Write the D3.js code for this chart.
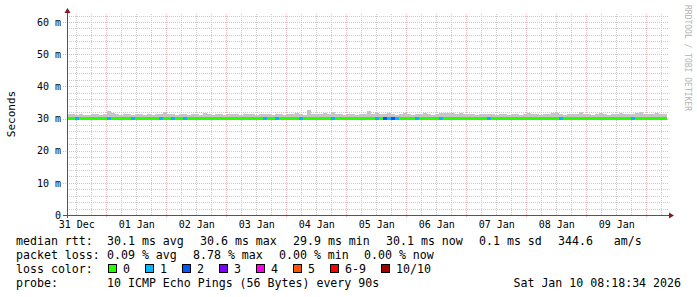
<!DOCTYPE html>
<html>
<head>
<meta charset="utf-8">
<script src="https://cdn.jsdelivr.net/npm/d3@7"></script>
<style>
  body { margin: 0; background: #fff; }
  text { font-family: "DejaVu Sans Mono", monospace; }
</style>
</head>
<body>
<div id="chart"></div>
<script>
// time window shown by the graph (10 days)
const startTime = new Date(Date.UTC(2025, 11, 31, 8, 18, 34));
const endTime = new Date(Date.UTC(2026, 0, 10, 8, 18, 34));
const sampleMinutes = 96;

// highest ping per sample (top of the smoke), ms
const pingMax = [
  31.5, 31.3, 31.2, 31.4, 31.2, 31.1, 31.3, 31.4, 31.2, 31.3,
  32.2, 31.6, 31.3, 31.2, 31.4, 31.3, 31.2, 31.3, 31.5, 31.2,
  31.3, 31.2, 31.4, 31.3, 32.0, 31.5, 31.3, 31.2, 31.4, 31.3,
  31.2, 31.5, 31.3, 31.2, 31.6, 31.3, 31.2, 31.4, 31.3, 31.2,
  31.5, 31.3, 31.4, 31.2, 31.3, 31.5, 31.3, 31.2, 31.4, 31.3,
  31.3, 31.2, 31.4, 31.3, 31.2, 31.5, 31.4, 31.7, 31.3, 31.2,
  32.6, 31.4, 31.3, 31.4, 31.7, 31.5, 32.0, 31.4, 31.3, 31.2,
  31.3, 31.4, 31.2, 31.3, 31.5, 32.2, 31.4, 31.6, 31.4, 31.5,
  31.6, 31.3, 31.2, 31.5, 31.7, 31.3, 31.2, 31.4, 31.3, 31.6,
  31.3, 31.2, 31.5, 31.6, 31.7, 31.8, 31.7, 31.4, 31.6, 31.3,
  31.5, 31.3, 31.2, 31.4, 31.3, 31.5, 31.3, 31.2, 31.4, 31.3,
  31.2, 31.3, 31.4, 31.2, 31.3, 31.7, 31.4, 31.3, 31.2, 31.4,
  31.5, 31.7, 31.6, 31.3, 31.2, 31.4, 31.3, 31.5, 32.0, 31.4,
  31.3, 31.2, 31.4, 31.7, 31.3, 31.2, 31.4, 31.5, 31.8, 31.4,
  31.3, 31.5, 31.6, 32.1, 31.5, 31.3, 31.4, 31.8, 31.5, 31.4
];
const pingFloor = 29.8;

// median rtt per sample, ms
const medianRtt = [
  30.1, 30.1, 30.1, 30.1, 30.1, 30.1, 30.1, 30.1, 30.1, 30.1,
  30.1, 30.1, 30.1, 30.1, 30.1, 30.1, 30.1, 30.1, 30.1, 30.1,
  30.1, 30.1, 30.1, 30.1, 30.1, 30.1, 30.1, 30.1, 30.1, 30.1,
  30.1, 30.1, 30.1, 30.1, 30.1, 30.1, 30.1, 30.1, 30.1, 30.1,
  30.1, 30.1, 30.1, 30.1, 30.1, 30.1, 30.1, 30.1, 30.1, 30.1,
  30.1, 30.1, 30.1, 30.1, 30.1, 30.1, 30.1, 30.1, 30.1, 30.1,
  30.1, 30.1, 30.1, 30.1, 30.1, 30.1, 30.1, 30.1, 30.1, 30.1,
  30.1, 30.1, 30.1, 30.1, 30.1, 30.1, 30.1, 30.1, 30.1, 30.1,
  30.1, 30.1, 30.1, 30.1, 30.1, 30.1, 30.1, 30.1, 30.1, 30.1,
  30.1, 30.1, 30.1, 30.1, 30.1, 30.1, 30.1, 30.1, 30.1, 30.1,
  30.1, 30.1, 30.1, 30.1, 30.1, 30.1, 30.1, 30.1, 30.1, 30.1,
  30.1, 30.1, 30.1, 30.1, 30.1, 30.1, 30.1, 30.1, 30.1, 30.1,
  30.1, 30.1, 30.1, 30.1, 30.1, 30.1, 30.1, 30.1, 30.1, 30.1,
  30.1, 30.1, 30.1, 30.1, 30.1, 30.1, 30.1, 30.1, 30.1, 30.1,
  30.1, 30.1, 30.1, 30.1, 30.1, 30.1, 30.1, 30.1, 30.1, 30.1
];

// lost pings (out of 10) per sample
const lossCount = [
  0, 0, 1, 0, 0, 0, 0, 0, 0, 0,
  1, 0, 0, 0, 0, 0, 1, 0, 0, 0,
  0, 0, 0, 1, 0, 0, 1, 0, 0, 1,
  0, 0, 0, 0, 0, 0, 0, 0, 0, 0,
  0, 0, 0, 0, 0, 0, 0, 0, 0, 1,
  0, 0, 1, 0, 0, 0, 0, 0, 1, 0,
  0, 0, 0, 0, 0, 0, 1, 0, 0, 0,
  0, 0, 0, 0, 0, 0, 0, 1, 0, 2,
  1, 2, 1, 0, 0, 0, 0, 1, 0, 0,
  0, 0, 0, 1, 0, 0, 0, 0, 0, 0,
  0, 0, 0, 0, 0, 1, 0, 0, 0, 0,
  0, 0, 0, 0, 0, 0, 0, 0, 0, 0,
  0, 0, 0, 1, 0, 0, 0, 0, 0, 0,
  0, 0, 0, 0, 0, 0, 0, 0, 0, 0,
  0, 1, 0, 0, 0, 0, 0, 0, 0, 0
];

const yTicks = [0, 10, 20, 30, 40, 50, 60];
const yMax = 62.49;

const lossBands = ["0", "1", "2", "3", "4", "5", "6-9", "10/10"];
const lossColors = ["#26ff00", "#00b8ff", "#0059ff", "#7e00ff", "#ff00ea", "#ff5500", "#ff0000", "#a10000"];

const rowLabels = ["median rtt:", "packet loss:", "loss color:", "probe:"];
const rttStats = ["30.1 ms avg", "30.6 ms max", "29.9 ms min", "30.1 ms now", "0.1 ms sd", "344.6   am/s"];
const lossStats = ["0.09 % avg", "8.78 % max", "0.00 % min", "0.00 % now"];
const probeText = "10 ICMP Echo Pings (56 Bytes) every 90s";
const stampText = "Sat Jan 10 08:18:34 2026";
const yTitle = "Seconds";
const watermark = "RRDTOOL / TOBI OETIKER";

const W = 697, H = 297;
const plot = {left: 67, right: 667, top: 14, bottom: 215};

const svg = d3.select("#chart").append("svg")
    .attr("width", W)
    .attr("height", H);

svg.append("rect").attr("width", W).attr("height", H).attr("fill", "#fff");

const x = d3.scaleUtc().domain([startTime, endTime]).range([plot.left, plot.right]);
const y = d3.scaleLinear().domain([0, yMax]).range([plot.bottom, plot.top]);

const gridColor = "#cacaca", majorColor = "#e6baba";

// grid
const grid = svg.append("g").attr("shape-rendering", "crispEdges").attr("stroke-dasharray", "1,1");

const minorY = d3.range(2, yMax, 2).filter(v => v % 10 !== 0);
grid.selectAll(".ym").data(minorY).enter().append("line")
    .attr("x1", plot.left).attr("x2", plot.right + 2)
    .attr("y1", d => Math.round(y(d)) + 0.5).attr("y2", d => Math.round(y(d)) + 0.5)
    .attr("stroke", gridColor);

const minorX = d3.utcHour.every(6).range(startTime, endTime).filter(d => d.getUTCHours() !== 0);
grid.selectAll(".xm").data(minorX).enter().append("line")
    .attr("x1", d => Math.round(x(d)) + 0.5).attr("x2", d => Math.round(x(d)) + 0.5)
    .attr("y1", plot.top).attr("y2", plot.bottom)
    .attr("stroke", gridColor);

grid.selectAll(".yM").data(yTicks.filter(v => v > 0)).enter().append("line")
    .attr("x1", plot.left - 4).attr("x2", plot.right + 2)
    .attr("y1", d => Math.round(y(d)) + 0.5).attr("y2", d => Math.round(y(d)) + 0.5)
    .attr("stroke", majorColor);

const days = d3.utcDay.range(startTime, endTime);
grid.selectAll(".xM").data(days).enter().append("line")
    .attr("x1", d => Math.round(x(d)) + 0.5).attr("x2", d => Math.round(x(d)) + 0.5)
    .attr("y1", plot.top).attr("y2", plot.bottom + 3)
    .attr("stroke", majorColor);

// samples
const samples = pingMax.map((v, i) => ({
  t0: d3.utcMinute.offset(startTime, i * sampleMinutes),
  t1: d3.utcMinute.offset(startTime, (i + 1) * sampleMinutes),
  max: v,
  median: medianRtt[i],
  loss: lossCount[i]
}));

function bandOf(loss) {
  if (loss >= 10) return 7;
  if (loss >= 6) return 6;
  return loss;
}

// smoke
svg.append("g").attr("shape-rendering", "crispEdges")
  .selectAll("rect").data(samples).enter().append("rect")
    .attr("x", d => Math.round(x(d.t0)))
    .attr("width", d => Math.round(x(d.t1)) - Math.round(x(d.t0)))
    .attr("y", d => Math.round(y(d.max)))
    .attr("height", d => Math.round(y(pingFloor)) - Math.round(y(d.max)))
    .attr("fill", "#c6c6c6");

// median line coloured by loss
svg.append("g").attr("shape-rendering", "crispEdges")
  .selectAll("rect").data(samples).enter().append("rect")
    .attr("x", d => Math.round(x(d.t0)))
    .attr("width", d => Math.round(x(d.t1)) - Math.round(x(d.t0)))
    .attr("y", d => Math.round(y(d.median)) - 1.5)
    .attr("height", 3)
    .attr("fill", d => lossColors[bandOf(d.loss)]);

// axes lines and arrows
const axisColor = "#555", arrowColor = "#7f1f1f";
svg.append("line")
    .attr("x1", plot.left + 0.5).attr("x2", plot.left + 0.5)
    .attr("y1", plot.bottom + 3).attr("y2", 10)
    .attr("stroke", axisColor).attr("shape-rendering", "crispEdges");
svg.append("line")
    .attr("x1", plot.left - 4).attr("x2", 670)
    .attr("y1", plot.bottom + 0.5).attr("y2", plot.bottom + 0.5)
    .attr("stroke", axisColor).attr("shape-rendering", "crispEdges");
svg.append("path").attr("d", "M64.5,13 L70.5,13 L67.5,8 Z").attr("fill", arrowColor);
svg.append("path").attr("d", "M669,212.5 L669,218.5 L674,215.5 Z").attr("fill", arrowColor);

// tick labels via d3 axes
const yAxis = svg.append("g")
    .attr("transform", `translate(${plot.left},0)`)
    .call(d3.axisLeft(y).tickValues(yTicks).tickSize(0).tickPadding(6)
      .tickFormat(d => d === 0 ? "0" : d + " m"));
yAxis.select(".domain").remove();
yAxis.selectAll("text").attr("font-family", "DejaVu Sans Mono").attr("font-size", 10).attr("fill", "#000");

const noonTicks = d3.utcDay.range(d3.utcDay.floor(startTime), endTime)
    .map(d => d3.utcHour.offset(d, 12))
    .filter(d => d >= startTime && d <= endTime);
const xAxis = svg.append("g")
    .attr("transform", `translate(0,${plot.bottom})`)
    .call(d3.axisBottom(x).tickValues(noonTicks).tickSize(0).tickPadding(6)
      .tickFormat(d3.utcFormat("%d %b")));
xAxis.select(".domain").remove();
xAxis.selectAll("text").attr("font-family", "DejaVu Sans Mono").attr("font-size", 10).attr("fill", "#000");

// y title
svg.append("text")
    .attr("transform", "translate(15,114) rotate(-90)")
    .attr("text-anchor", "middle")
    .attr("font-size", 11)
    .text(yTitle);

// watermark
svg.append("text")
    .attr("transform", "translate(684.5,5) rotate(90)")
    .attr("font-size", 8)
    .attr("fill", "#b4b4b4")
    .text(watermark);

// legend
const fs = 11.6;
const rowY = [245, 259, 272.5, 286.5];
const leg = svg.append("g").attr("font-size", fs).attr("fill", "#000");

leg.selectAll(".rl").data(rowLabels).enter().append("text")
    .attr("x", 16).attr("y", (d, i) => rowY[i])
    .text(d => d);

const rttX = [107, 200, 293, 386, 479, 558];
leg.selectAll(".rs").data(rttStats).enter().append("text")
    .attr("x", (d, i) => rttX[i]).attr("y", rowY[0])
    .attr("xml:space", "preserve")
    .text(d => d);

const lossX = [107, 193, 279, 364];
leg.selectAll(".ls").data(lossStats).enter().append("text")
    .attr("x", (d, i) => lossX[i]).attr("y", rowY[1])
    .text(d => d);

let bx = 108;
const boxX = lossBands.map(b => { const v = bx; bx += 30 + 7 * b.length; return v; });
leg.selectAll(".lb").data(lossBands).enter().append("rect")
    .attr("x", (d, i) => boxX[i] + 0.5).attr("y", 264.5)
    .attr("width", 8).attr("height", 8)
    .attr("fill", (d, i) => lossColors[i])
    .attr("stroke", "#000").attr("stroke-width", 1)
    .attr("shape-rendering", "crispEdges");
leg.selectAll(".lt").data(lossBands).enter().append("text")
    .attr("x", (d, i) => boxX[i] + 15).attr("y", rowY[2])
    .text(d => d);

leg.append("text").attr("x", 107).attr("y", rowY[3]).text(probeText);
leg.append("text").attr("x", 681).attr("y", rowY[3]).attr("text-anchor", "end").text(stampText);
</script>
</body>
</html>
